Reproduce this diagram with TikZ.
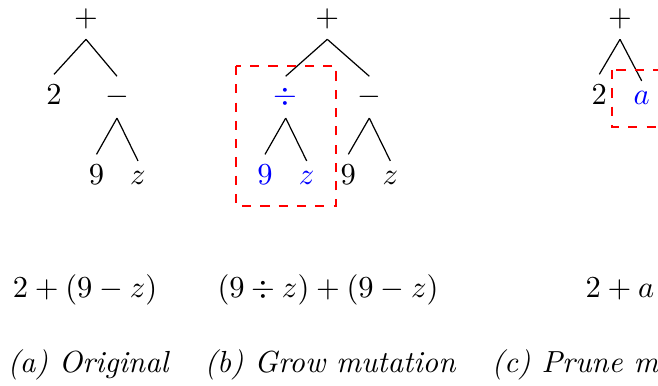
\documentclass[tikz,border=0pt]{standalone}
\begin{document}
\begin{tikzpicture}[x=0.3279pt,y=-0.3279pt,
  tn/.style={anchor=base},
  hl/.style={text=blue},
  edge/.style={draw=black, line width=0.4pt},
  selbox/.style={draw=red, dashed, line width=0.45pt},
  expr/.style={anchor=base, inner sep=0pt},
  captext/.style={anchor=base, inner sep=0pt, font=\itshape}]
\useasboundingbox (0,0) rectangle (658,385);
\clip (0,0) rectangle (658,385);
% tree (a)
\node[tn] (a0) at (86,26) {$+$};
\node[tn] (a1) at (54,104.8) {$2$};
\node[tn] (a2) at (117,104.8) {$-$};
\node[tn] (a3) at (96.5,184.8) {$9$};
\node[tn] (a4) at (138,184.8) {$z$};
\draw[edge] (a0.south) -- (a1.north);
\draw[edge] (a0.south) -- (a2.north);
\draw[edge] (a2.south) -- (a3.north);
\draw[edge] (a2.south) -- (a4.north);
% tree (b)
\node[tn] (b0) at (327.3,26) {$+$};
\node[tn,hl] (b1) at (285.7,104.8) {$\div$};
\node[tn] (b2) at (369.3,104.8) {$-$};
\node[tn,hl] (b3) at (265,184.8) {$9$};
\node[tn,hl] (b4) at (306.7,184.8) {$z$};
\node[tn] (b5) at (348.3,184.8) {$9$};
\node[tn] (b6) at (390.3,184.8) {$z$};
\draw[edge] (b0.south) -- (b1.north);
\draw[edge] (b0.south) -- (b2.north);
\draw[edge] (b1.south) -- (b3.north);
\draw[edge] (b1.south) -- (b4.north);
\draw[edge] (b2.south) -- (b5.north);
\draw[edge] (b2.south) -- (b6.north);
\draw[selbox] (235.9,65.9) rectangle (336.1,206.1);
% tree (c)
\node[tn] (c0) at (620,26) {$+$};
\node[tn] (c1) at (599.3,104.8) {$2$};
\node[tn,hl] (c2) at (641.7,104.8) {$a$};
\draw[edge] (c0.south) -- (c1.north);
\draw[edge] (c0.south) -- (c2.north);
\draw[selbox] (611.9,70.1) rectangle (690,126.9);
% expressions
\node[expr] (ea) at (85,297) {$2+(9-z)$};
\node[expr] (eb) at (328,297) {$(9\div z)+(9-z)$};
\node[expr] (ec) at (620,297) {$2+a$};
% captions
\node[captext] (ca) at (88,372) {(a) Original};
\node[captext] (cb) at (330,372) {(b) Grow mutation};
\node[captext,anchor=base west] (cc) at (491,372) {(c) Prune m};
\end{tikzpicture}
\end{document}
